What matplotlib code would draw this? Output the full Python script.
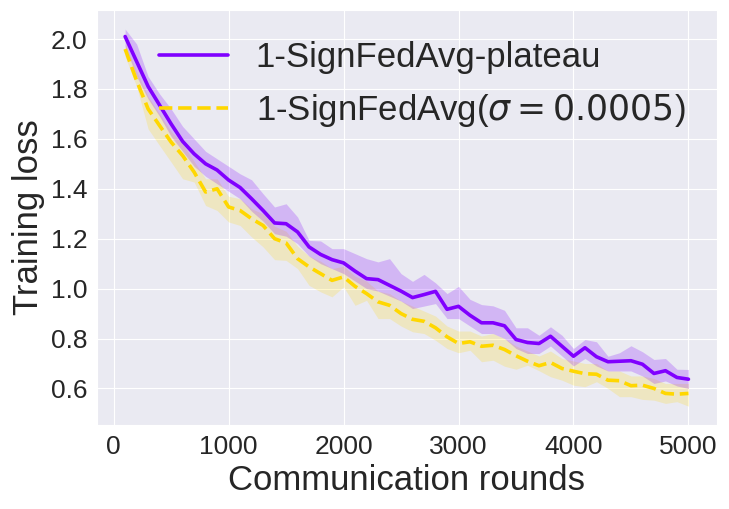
import numpy as np
import matplotlib
matplotlib.use("Agg")
import matplotlib.pyplot as plt
import seaborn as sns

sns.set_style("darkgrid")
plt.rcParams['font.family'] = ['Liberation Sans', 'DejaVu Sans']

# communication rounds
rounds = list(range(100, 5001, 100))

# 1-SignFedAvg-plateau
plateau_mean = [2.01, 1.91, 1.81, 1.735, 1.66, 1.59, 1.54, 1.50, 1.475, 1.435,
                1.405, 1.36, 1.313, 1.263, 1.26, 1.227, 1.167, 1.137, 1.116, 1.103,
                1.07, 1.04, 1.036, 1.013, 0.99, 0.964, 0.976, 0.989, 0.917, 0.929,
                0.893, 0.863, 0.863, 0.851, 0.796, 0.784, 0.78, 0.809, 0.769, 0.729,
                0.763, 0.727, 0.707, 0.709, 0.711, 0.697, 0.66, 0.671, 0.644, 0.637]
plateau_hi = [2.04, 1.98, 1.85, 1.78, 1.72, 1.65, 1.60, 1.55, 1.52, 1.49,
              1.46, 1.436, 1.38, 1.327, 1.34, 1.287, 1.193, 1.191, 1.16, 1.16,
              1.14, 1.12, 1.107, 1.12, 1.06, 1.029, 1.057, 1.023, 0.98, 1.009,
              0.957, 0.936, 0.931, 0.913, 0.843, 0.843, 0.813, 0.847, 0.813, 0.76,
              0.796, 0.787, 0.729, 0.743, 0.771, 0.747, 0.716, 0.72, 0.677, 0.676]
plateau_lo = [1.97, 1.85, 1.76, 1.69, 1.61, 1.55, 1.49, 1.45, 1.42, 1.39,
              1.36, 1.31, 1.27, 1.22, 1.21, 1.18, 1.13, 1.10, 1.08, 1.06,
              1.03, 1.00, 0.99, 0.97, 0.95, 0.92, 0.93, 0.94, 0.88, 0.88,
              0.85, 0.82, 0.82, 0.80, 0.76, 0.74, 0.74, 0.77, 0.73, 0.69,
              0.72, 0.69, 0.67, 0.67, 0.67, 0.65, 0.62, 0.63, 0.61, 0.60]

# 1-SignFedAvg(sigma=0.0005)
sigma_mean = [1.96, 1.833, 1.72, 1.653, 1.587, 1.533, 1.467, 1.387, 1.40, 1.327,
              1.313, 1.28, 1.253, 1.20, 1.183, 1.12, 1.087, 1.06, 1.033, 1.047,
              1.009, 0.98, 0.947, 0.933, 0.90, 0.877, 0.869, 0.843, 0.807, 0.78,
              0.787, 0.769, 0.773, 0.756, 0.731, 0.709, 0.691, 0.704, 0.68, 0.669,
              0.659, 0.657, 0.633, 0.631, 0.611, 0.613, 0.60, 0.58, 0.577, 0.58]
sigma_hi = [1.98, 1.87, 1.77, 1.70, 1.63, 1.58, 1.51, 1.44, 1.44, 1.37,
            1.36, 1.32, 1.30, 1.25, 1.23, 1.17, 1.13, 1.11, 1.08, 1.09,
            1.05, 1.03, 0.99, 0.98, 0.95, 0.93, 0.91, 0.89, 0.85, 0.83,
            0.83, 0.81, 0.82, 0.80, 0.77, 0.75, 0.73, 0.75, 0.72, 0.71,
            0.70, 0.70, 0.67, 0.67, 0.65, 0.65, 0.64, 0.62, 0.62, 0.62]
sigma_lo = [1.93, 1.81, 1.64, 1.573, 1.507, 1.44, 1.427, 1.333, 1.313, 1.267,
            1.253, 1.207, 1.167, 1.116, 1.113, 1.08, 1.013, 0.987, 0.967, 1.007,
            0.933, 0.953, 0.88, 0.88, 0.85, 0.827, 0.82, 0.793, 0.76, 0.743,
            0.753, 0.707, 0.713, 0.689, 0.677, 0.693, 0.671, 0.647, 0.633, 0.613,
            0.607, 0.627, 0.60, 0.567, 0.567, 0.556, 0.553, 0.54, 0.547, 0.529]

purple = "#8000ff"
gold = "#ffd700"

fig, ax = plt.subplots(figsize=(7.29, 5.09), dpi=100)
fig.subplots_adjust(left=0.133, right=0.983, bottom=0.165, top=0.980)

ax.fill_between(rounds, sigma_lo, sigma_hi, color=gold, alpha=0.2, lw=0)
ax.fill_between(rounds, plateau_lo, plateau_hi, color=purple, alpha=0.22, lw=0)
ax.plot(rounds, plateau_mean, color=purple, lw=2.6, label="1-SignFedAvg-plateau")
ax.plot(rounds, sigma_mean, color=gold, lw=2.6, linestyle="--",
        label=r"1-SignFedAvg($\sigma=0.0005$)")

ax.set_xticks([0, 1000, 2000, 3000, 4000, 5000])
ax.set_yticks([0.6, 0.8, 1.0, 1.2, 1.4, 1.6, 1.8, 2.0])
ax.tick_params(labelsize=19)
ax.set_xlabel("Communication rounds", fontsize=25)
ax.set_ylabel("Training loss", fontsize=25)
ax.legend(loc="upper right", fontsize=25, frameon=False)

fig.savefig("out.png", dpi=100)
